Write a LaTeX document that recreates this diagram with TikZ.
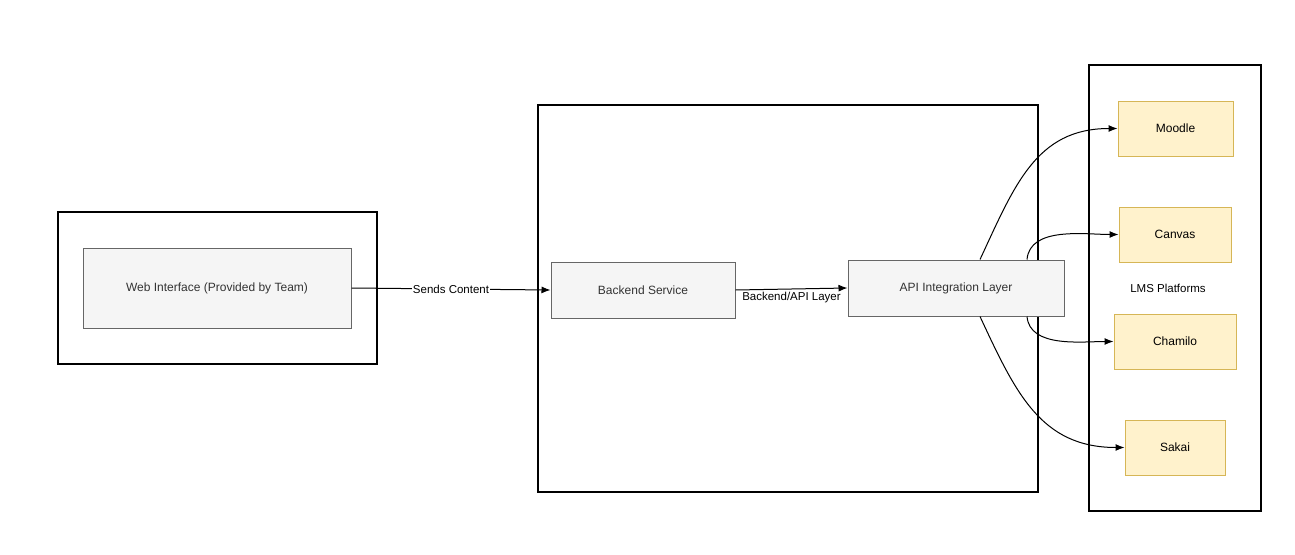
\documentclass[tikz,border=0pt]{standalone}
\usepackage{fontspec}
\setmainfont{Liberation Sans}
\usetikzlibrary{arrows.meta}
\definecolor{grayfill}{HTML}{F5F5F5}
\definecolor{grayline}{HTML}{666666}
\definecolor{yellowfill}{HTML}{FFF2CC}
\definecolor{yellowline}{HTML}{D6B656}
\begin{document}
\begin{tikzpicture}[x=1pt,y=-1pt,
		group/.style={draw=black,line width=1.6pt},
		block/.style={draw=grayline,fill=grayfill,line width=1pt,text=black!80,
			font=\fontsize{12}{14}\selectfont,inner sep=0pt},
		lms/.style={draw=yellowline,fill=yellowfill,line width=1pt,
			font=\fontsize{12}{14}\selectfont,inner sep=0pt,minimum height=55pt},
		link/.style={-{Latex[length=9pt,width=7pt]},line width=1pt},
		tag/.style={font=\fontsize{11.5}{13}\selectfont,inner sep=1pt}]
	\useasboundingbox (0,0) rectangle (1295,554);
	
	% Groups
	\draw[group] (58,212) rectangle (377,364);
	\draw[group] (538,105) rectangle (1038,492);
	\draw[group] (1089,65) rectangle (1261,511);
	
	% Blocks
	\node[block,minimum width=268pt,minimum height=80pt] (web) at (217,288) {Web Interface (Provided by Team)};
	\node[block,minimum width=184pt,minimum height=56pt] (backend) at (643,290) {Backend Service};
	\node[block,minimum width=216pt,minimum height=56pt] (api) at (956,288) {API Integration Layer};
	
	% LMS platforms
	\node[lms,minimum width=115pt] (moodle) at (1175.5,128.5) {Moodle};
	\node[lms,minimum width=112pt] (canvas) at (1175,234.5) {Canvas};
	\node[font=\fontsize{11.5}{13}\selectfont] (platforms) at (1168,288) {LMS Platforms};
	\node[lms,minimum width=122pt] (chamilo) at (1175,341.5) {Chamilo};
	\node[lms,minimum width=100pt] (sakai) at (1175,447.5) {Sakai};
	
	% Connectors
	\draw[link] (web.east) -- node[tag,fill=white] {Sends Content} (backend.west);
	\draw[link] (backend.east) -- node[tag,below,yshift=-2pt] {Backend/API Layer} (api.west);
	\draw[link] ([xshift=24pt]api.north) to[out=65,in=180,looseness=1.1] (moodle.west);
	\draw[link] ([xshift=71pt]api.north) to[out=85,in=180,looseness=0.9] (canvas.west);
	\draw[link] ([xshift=71pt]api.south) to[out=-85,in=180,looseness=0.9] (chamilo.west);
	\draw[link] ([xshift=24pt]api.south) to[out=-65,in=180,looseness=1.1] (sakai.west);
\end{tikzpicture}
\end{document}
